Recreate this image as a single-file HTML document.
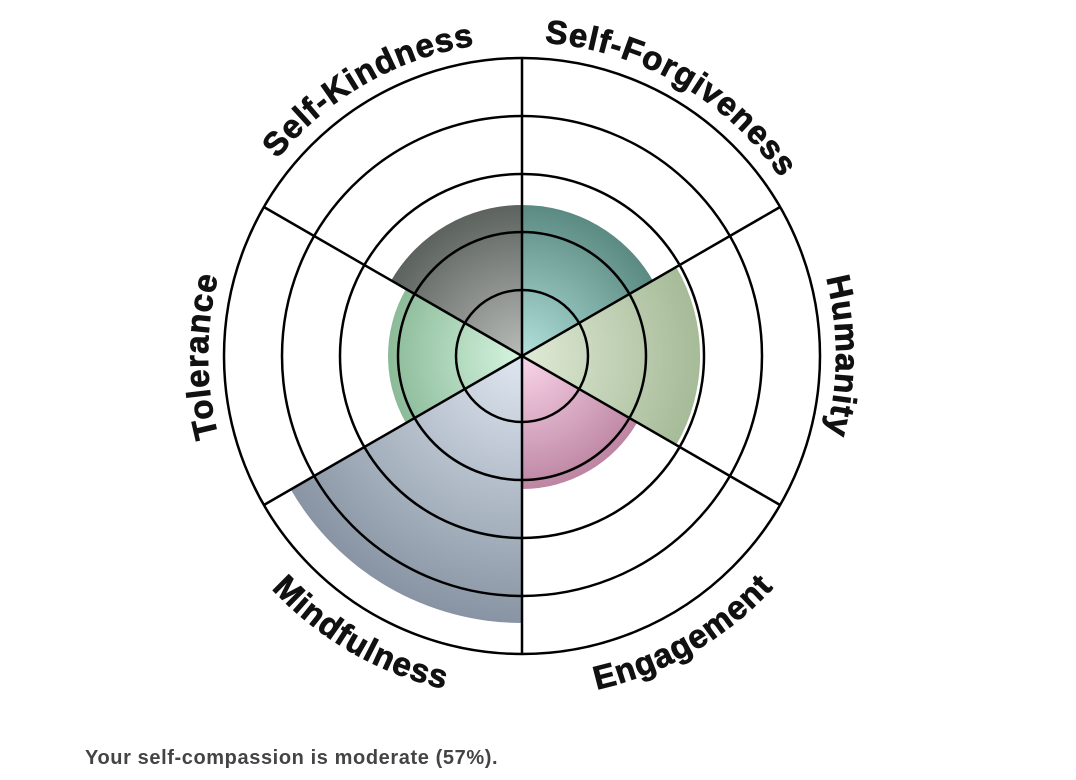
<!DOCTYPE html>
<html><head><meta charset="utf-8"><style>
html,body{margin:0;padding:0;background:#fff;}
body{width:1076px;height:780px;position:relative;overflow:hidden;font-family:"Liberation Sans",sans-serif;}
.cap{position:absolute;left:85px;top:747px;font-size:20px;font-weight:bold;color:#444;letter-spacing:0.6px;}
</style></head><body>
<svg width="1076" height="780" viewBox="0 0 1076 780" style="position:absolute;left:0;top:0">
<defs>
<radialGradient id="gk" gradientUnits="userSpaceOnUse" cx="522" cy="356" r="151"><stop offset="0" stop-color="#b8bcb8"/><stop offset="1" stop-color="#5c625e"/></radialGradient>
<radialGradient id="gf" gradientUnits="userSpaceOnUse" cx="522" cy="356" r="151"><stop offset="0" stop-color="#b2e0da"/><stop offset="1" stop-color="#5a8a82"/></radialGradient>
<radialGradient id="gh" gradientUnits="userSpaceOnUse" cx="522" cy="356" r="178"><stop offset="0" stop-color="#e0ead6"/><stop offset="1" stop-color="#a6bb98"/></radialGradient>
<radialGradient id="ge" gradientUnits="userSpaceOnUse" cx="522" cy="356" r="133"><stop offset="0" stop-color="#fad6ea"/><stop offset="1" stop-color="#bd85a2"/></radialGradient>
<radialGradient id="gm" gradientUnits="userSpaceOnUse" cx="522" cy="356" r="267"><stop offset="0" stop-color="#dfe7f1"/><stop offset="1" stop-color="#8894a3"/></radialGradient>
<radialGradient id="gt" gradientUnits="userSpaceOnUse" cx="522" cy="356" r="134"><stop offset="0" stop-color="#d6f5e1"/><stop offset="1" stop-color="#8cbb99"/></radialGradient>
<path id="cw" d="M522,670 A314,314 0 0 1 522,42 A314,314 0 0 1 522,670"/>
<path id="ccw" d="M180,356 A342,342 0 0 0 864,356"/>
</defs>
<path d="M522,356 L391.2,280.5 A151,151 0 0 1 522,205 Z" fill="url(#gk)"/>
<path d="M522,356 L522,205 A151,151 0 0 1 652.8,280.5 Z" fill="url(#gf)"/>
<path d="M522,356 L676.2,267 A178,178 0 0 1 676.2,445 Z" fill="url(#gh)"/>
<path d="M522,356 L637.2,422.5 A133,133 0 0 1 522,489 Z" fill="url(#ge)"/>
<path d="M522,356 L522,623 A267,267 0 0 1 290.8,489.5 Z" fill="url(#gm)"/>
<path d="M522,356 L405.95,423 A134,134 0 0 1 405.95,289 Z" fill="url(#gt)"/>
<g fill="none" stroke="#000" stroke-width="2.5">
<circle cx="522" cy="356" r="298"/>
<circle cx="522" cy="356" r="240"/>
<circle cx="522" cy="356" r="182"/>
<circle cx="522" cy="356" r="124"/>
<circle cx="522" cy="356" r="66"/>
<line x1="522" y1="58" x2="522" y2="654"/>
<line x1="780.1" y1="505" x2="263.9" y2="207"/>
<line x1="263.9" y1="505" x2="780.1" y2="207"/>
</g>
<g font-family="Liberation Sans, sans-serif" font-weight="bold" font-size="33" fill="#111" stroke="#111" stroke-width="0.8" letter-spacing="1">
<text><textPath href="#cw" startOffset="25%" text-anchor="middle">Tolerance</textPath></text>
<text><textPath href="#cw" startOffset="41.7%" text-anchor="middle">Self-Kindness</textPath></text>
<text><textPath href="#cw" startOffset="58.3%" text-anchor="middle">Self-Forgiveness</textPath></text>
<text><textPath href="#cw" startOffset="75%" text-anchor="middle">Humanity</textPath></text>
<text><textPath href="#ccw" startOffset="33.3%" text-anchor="middle">Mindfulness</textPath></text>
<text><textPath href="#ccw" startOffset="66.7%" text-anchor="middle">Engagement</textPath></text>
</g>
</svg>
<div class="cap">Your self-compassion is moderate (57%).</div>
</body></html>
